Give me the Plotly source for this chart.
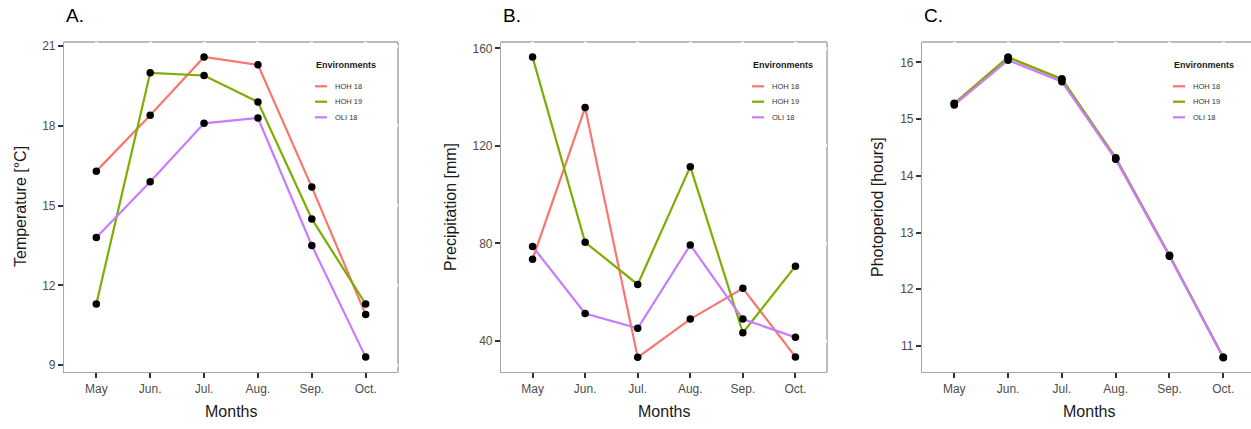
import plotly.graph_objects as go

# ---------------- data ----------------
months = ["May", "Jun.", "Jul.", "Aug.", "Sep.", "Oct."]
environments = ["HOH 18", "HOH 19", "OLI 18"]

temp_hoh18 = [16.3, 18.4, 20.6, 20.3, 15.7, 10.9]
temp_hoh19 = [11.3, 20.0, 19.9, 18.9, 14.5, 11.3]
temp_oli18 = [13.8, 15.9, 18.1, 18.3, 13.5, 9.3]

prec_hoh18 = [73.5, 135.7, 33.3, 49.0, 61.6, 33.5]
prec_hoh19 = [156.4, 80.5, 63.2, 111.5, 43.4, 70.7]
prec_oli18 = [78.8, 51.3, 45.2, 79.4, 49.0, 41.5]

photo_hoh18 = [15.28, 16.09, 15.70, 14.32, 12.60, 10.80]
photo_hoh19 = [15.27, 16.09, 15.71, 14.31, 12.59, 10.80]
photo_oli18 = [15.25, 16.04, 15.66, 14.29, 12.58, 10.79]

temp_ticks = [9, 12, 15, 18, 21]
prec_ticks = [40, 80, 120, 160]
photo_ticks = [11, 12, 13, 14, 15, 16]

colors = ["#F8766D", "#7CAE00", "#C77CFF"]

W, H = 1251, 429
FONT = "Liberation Sans, Arial, sans-serif"

panels = [
    dict(label="A.", title="Temperature [°C]", series=[temp_hoh18, temp_hoh19, temp_oli18],
         ticks=temp_ticks, yr=[8.74, 21.16], px=(64, 398), xr=[-0.6, 5.6], right=True, ytx=20),
    dict(label="B.", title="Precipitation [mm]", series=[prec_hoh18, prec_hoh19, prec_oli18],
         ticks=prec_ticks, yr=[27.3, 162.6], px=(501, 827), xr=[-0.6, 5.6], right=True, ytx=450),
    dict(label="C.", title="Photoperiod [hours]", series=[photo_hoh18, photo_hoh19, photo_oli18],
         ticks=photo_ticks, yr=[10.54, 16.36], px=(922, 1255.6), xr=[-0.6, 5.515], right=False, ytx=877),
]

top_px, bot_px = 42, 372
ydom = [(H - bot_px) / H, (H - top_px) / H]

fig = go.Figure()
shapes = []
annotations = []
border = "#A6A6A6"

for i, p in enumerate(panels):
    n = "" if i == 0 else str(i + 1)
    xa, ya = "x" + n, "y" + n
    for env, vals, c in zip(environments, p["series"], colors):
        fig.add_trace(go.Scatter(x=months, y=vals, mode="lines", name=env,
                                 line=dict(color=c, width=2.2), showlegend=False,
                                 xaxis=xa, yaxis=ya, hoverinfo="skip"))
    for env, vals in zip(environments, p["series"]):
        fig.add_trace(go.Scatter(x=months, y=vals, mode="markers", name=env,
                                 marker=dict(color="black", size=7.5), showlegend=False,
                                 xaxis=xa, yaxis=ya))
    x0, x1 = p["px"]
    xd = [x0 / W, min(x1 / W, 1.0)]
    axis_common = dict(showline=True, linecolor=border, linewidth=1.2, automargin=False,
                       ticks="outside", ticklen=5, tickwidth=2, tickcolor="#333333",
                       showgrid=True, gridcolor="white", gridwidth=2.5, zeroline=False,
                       tickfont=dict(family=FONT, size=12, color="#4D4D4D"))
    fig.update_layout(**{
        "xaxis" + n: dict(domain=xd, anchor=ya, type="category", range=p["xr"], **axis_common),
        "yaxis" + n: dict(domain=ydom, anchor=xa, range=p["yr"], tickvals=p["ticks"], **axis_common),
    })
    # axis titles
    annotations.append(dict(text="Months", xref="paper", yref="paper",
                            x=((x0 + x1) / 2) / W, y=(H - 411.7) / H, xanchor="center", yanchor="middle",
                            showarrow=False, font=dict(family=FONT, size=16, color="#1A1A1A")))
    annotations.append(dict(text=p["title"], xref="paper", yref="paper", textangle=-90,
                            x=p["ytx"] / W, y=(H - 207) / H, xanchor="center", yanchor="middle",
                            showarrow=False, font=dict(family=FONT, size=16, color="#1A1A1A")))
    # top / right border (below grid so white gridlines break it)
    shapes.append(dict(type="line", xref=xa + " domain", yref=ya + " domain",
                       x0=0, x1=1, y0=1, y1=1, layer="below",
                       line=dict(color=border, width=1.5)))
    if p["right"]:
        shapes.append(dict(type="line", xref=xa + " domain", yref=ya + " domain",
                           x0=1, x1=1, y0=0, y1=1, layer="below",
                           line=dict(color=border, width=1.5)))
    # panel label
    annotations.append(dict(text=p["label"], xref="paper", yref="paper",
                            x=x0 / W, y=(H - 15.5) / H, xanchor="left", yanchor="middle",
                            showarrow=False, font=dict(family=FONT, size=19, color="black")))
    # legend (ggplot-like, inside top-right)
    lx = x0 + 251
    annotations.append(dict(text="<b>Environments</b>", xref="paper", yref="paper",
                            x=(lx - 1) / W, y=(H - 64.7) / H, xanchor="left", yanchor="middle",
                            showarrow=False, font=dict(family=FONT, size=9, color="#1A1A1A")))
    for k, (env, c) in enumerate(zip(environments, colors)):
        yy = [86.3, 101.7, 117.3][k]
        shapes.append(dict(type="line", xref="paper", yref="paper",
                           x0=lx / W, x1=(lx + 12) / W, y0=(H - yy) / H, y1=(H - yy) / H,
                           line=dict(color=c, width=2.2)))
        annotations.append(dict(text=env, xref="paper", yref="paper",
                                x=(lx + 18) / W, y=(H - yy) / H, xanchor="left", yanchor="middle",
                                showarrow=False, font=dict(family=FONT, size=7.5, color="#333333")))

fig.update_layout(width=W, height=H, margin=dict(l=0, r=0, t=0, b=0),
                  paper_bgcolor="white", plot_bgcolor="white",
                  shapes=shapes, annotations=annotations, showlegend=False,
                  font=dict(family=FONT))

fig.write_html("out.html", config={"displayModeBar": False},
               post_script="document.body.style.margin='0px';")
